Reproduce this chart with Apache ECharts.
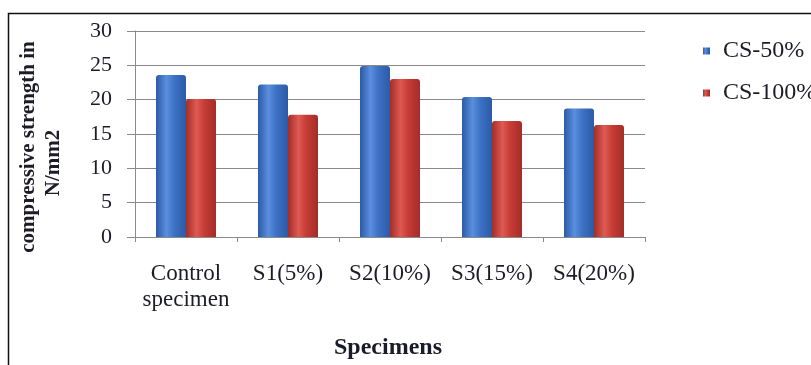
<!DOCTYPE html>
<html>
<head>
<meta charset="utf-8">
<script src="https://cdn.jsdelivr.net/npm/echarts@6/dist/echarts.min.js"></script>
<style>
  html, body { margin: 0; padding: 0; background: #fff; }
  #chart { width: 811px; height: 365px; }
</style>
</head>
<body>
<div id="chart"></div>
<script>
// Compressive strength (N/mm2) per specimen mix
const categories = ['Control\nspecimen', 'S1(5%)', 'S2(10%)', 'S3(15%)', 'S4(20%)'];
const seriesNames = ['CS-50%', 'CS-100%'];
const cs50 = [23.6, 22.2, 24.9, 20.4, 18.7];
const cs100 = [20.1, 17.8, 23.0, 16.9, 16.3];
const yTicks = [0, 5, 10, 15, 20, 25, 30];

const serif = '"Liberation Serif", "Times New Roman", serif';
const textColor = '#1c1c28';

// Horizontal shading to give the bars a rounded, glossy look
function barFill(edge, mid, light) {
  return new echarts.graphic.LinearGradient(0, 0, 1, 0, [
    { offset: 0, color: edge },
    { offset: 0.35, color: light },
    { offset: 0.6, color: mid },
    { offset: 1, color: edge }
  ]);
}
const blueFill = barFill('#2c5aa6', '#3d72c6', '#5a8ede');
const redFill = barFill('#a42c28', '#c63d36', '#de5a52');

const chart = echarts.init(document.getElementById('chart'), null, { renderer: 'canvas' });

chart.setOption({
  animation: false,
  backgroundColor: '#fff',
  grid: { left: 135, top: 31, right: 166, bottom: 128, containLabel: false },
  legend: {
    orient: 'vertical',
    left: 698,
    top: 34,
    itemWidth: 7,
    itemHeight: 7,
    itemGap: 18,
    icon: 'rect',
    data: seriesNames,
    textStyle: { fontFamily: serif, fontSize: 24, color: textColor, padding: [0, 0, 0, 8] }
  },
  xAxis: {
    type: 'category',
    data: categories,
    axisLine: { lineStyle: { color: '#8a8a8a', width: 1 } },
    axisTick: { show: true, length: 5, lineStyle: { color: '#8a8a8a' } },
    axisLabel: {
      fontFamily: serif, fontSize: 23, color: textColor,
      margin: 24, lineHeight: 26, interval: 0
    }
  },
  yAxis: {
    type: 'value',
    min: 0,
    max: 30,
    interval: 5,
    axisLine: { show: true, lineStyle: { color: '#8a8a8a', width: 1 } },
    axisTick: { show: true, length: 8, lineStyle: { color: '#8a8a8a' } },
    splitLine: { lineStyle: { color: '#8a8a8a', width: 1 } },
    axisLabel: {
      fontFamily: serif, fontSize: 22, color: textColor, margin: 23,
      formatter: function (v) { return yTicks.indexOf(v) >= 0 ? String(v) : ''; }
    }
  },
  series: [
    {
      name: seriesNames[0],
      type: 'bar',
      data: cs50,
      barWidth: 30,
      barGap: '0%',
      itemStyle: { color: blueFill, borderRadius: [3, 3, 0, 0] }
    },
    {
      name: seriesNames[1],
      type: 'bar',
      data: cs100,
      barWidth: 30,
      barGap: '0%',
      itemStyle: { color: redFill, borderRadius: [3, 3, 0, 0] }
    }
  ],
  graphic: [
    {
      type: 'rect',
      shape: { x: 8.5, y: 13.5, width: 830, height: 380 },
      style: { fill: 'none', stroke: '#111', lineWidth: 1.5 },
      silent: true
    },
    {
      type: 'text',
      x: 29, y: 147,
      rotation: Math.PI / 2,
      style: {
        text: 'compressive strength in',
        font: 'bold 21px ' + serif,
        fill: textColor,
        align: 'center',
        verticalAlign: 'middle'
      }
    },
    {
      type: 'text',
      x: 54, y: 163,
      rotation: Math.PI / 2,
      style: {
        text: 'N/mm2',
        font: 'bold 21px ' + serif,
        fill: textColor,
        align: 'center',
        verticalAlign: 'middle'
      }
    },
    {
      type: 'text',
      x: 388, y: 348,
      style: {
        text: 'Specimens',
        font: 'bold 24px ' + serif,
        fill: textColor,
        align: 'center',
        verticalAlign: 'middle'
      }
    }
  ]
});
</script>
</body>
</html>
